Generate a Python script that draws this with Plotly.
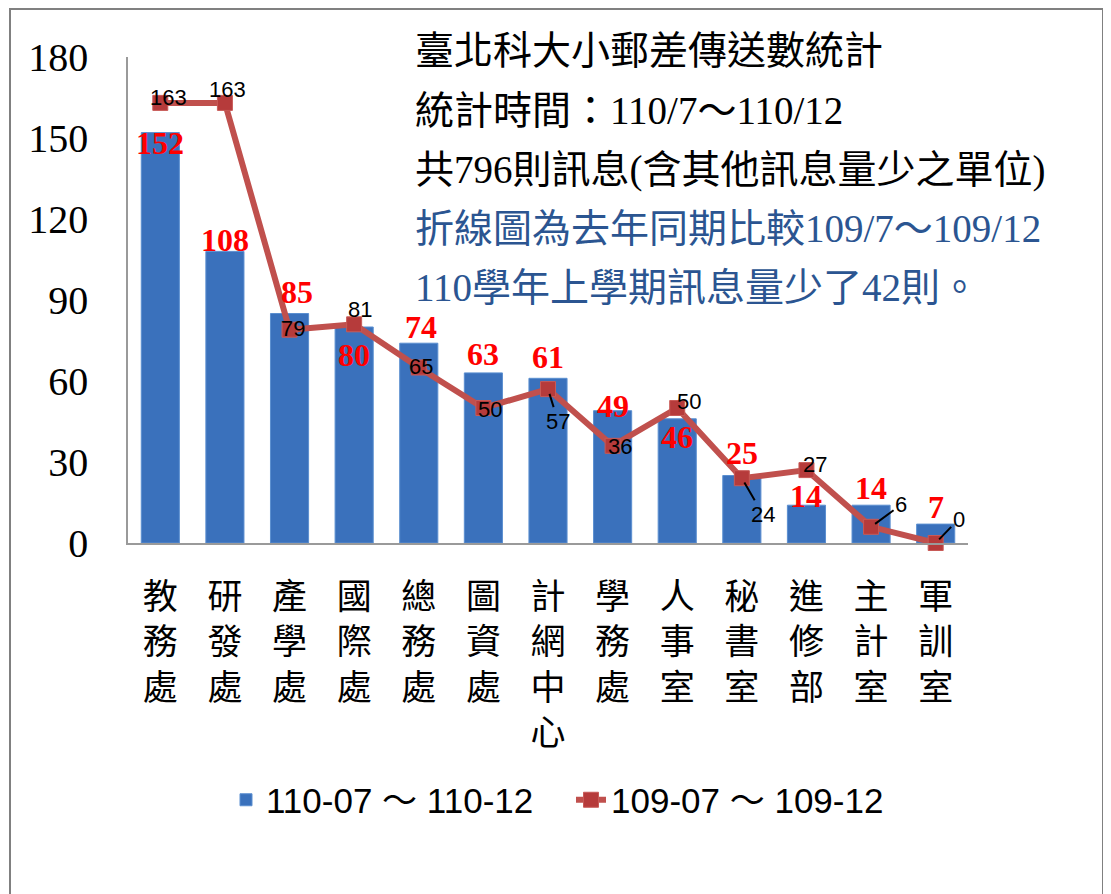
import plotly.graph_objects as go

categories = ['教務處', '研發處', '產學處', '國際處', '總務處', '圖資處', '計網中心',
              '學務處', '人事室', '秘書室', '進修部', '主計室', '軍訓室']
current = [152, 108, 85, 80, 74, 63, 61, 49, 46, 25, 14, 14, 7]
previous = [163, 163, 79, 81, 65, 50, 57, 36, 50, 24, 27, 6, 0]
y_ticks = [0, 30, 60, 90, 120, 150, 180]
name_current = '110-07 ～ 110-12'
name_previous = '109-07 ～ 109-12'
title_lines = ['臺北科大小郵差傳送數統計', '統計時間：110/7～110/12',
               '共796則訊息(含其他訊息量少之單位)',
               '折線圖為去年同期比較109/7～109/12', '110學年上學期訊息量少了42則。']

# label offsets in screen px (dx, dy; dy positive = down)
bar_label_off = [(0, 10), (0, -11), (7, -22), (0, 28), (2, -16), (0, -19), (0, -21),
                 (0, -5), (0, 18), (0, -23), (0, -9), (0, -17), (0, -17)]
line_label_off = [(8, -5), (3, -13), (3, -1), (6, -15), (2, -1), (7, 1), (10, 32),
                  (7, 1), (12, -7), (21, 36), (9, -6), (30, -22), (23, -24)]
line_label_arrow = [False, False, False, False, False, False, True,
                    False, False, True, False, True, True]

OFF = 8  # page body margin
W, H = 1111 - OFF, 894 - OFF
L, R, T, B = 128 - OFF, 968 - OFF, 57 - OFF, 543 - OFF
pw, ph = R - L, B - T

def px2paper(x, y):
    # x, y in reference-page pixels
    return (x - OFF - L) / pw, (B - (y - OFF)) / ph

ticktext = ['<br>'.join(list(c)) for c in categories]

fig = go.Figure()
fig.add_trace(go.Bar(x=categories, y=current, name=name_current,
                     marker=dict(color='#3A71BC', line=dict(color='#5B8FD0', width=1)),
                     width=0.59))
fig.add_trace(go.Scatter(x=categories, y=previous, name=name_previous, mode='lines+markers',
                         cliponaxis=False,
                         line=dict(color='#C0504D', width=6),
                         marker=dict(symbol='square', size=15, color='#B63B3B',
                                     line=dict(color='#C85A57', width=1))))

ann = []
for c, v, (dx, dy) in zip(categories, current, bar_label_off):
    ann.append(dict(x=c, y=v, text=str(v), showarrow=False, xshift=dx, yshift=-dy,
                    xanchor='center', yanchor='middle',
                    font=dict(family='Liberation Serif', size=32, color='#FF0000', weight='bold')))
for c, v, (dx, dy), arr in zip(categories, previous, line_label_off, line_label_arrow):
    if arr:
        ann.append(dict(x=c, y=v, text=str(v), showarrow=True, ax=dx, ay=dy,
                        arrowhead=0, arrowwidth=2, arrowcolor='black', standoff=5,
                        xanchor='center', yanchor='middle',
                        font=dict(family='Liberation Sans', size=22, color='black')))
    else:
        ann.append(dict(x=c, y=v, text=str(v), showarrow=False, xshift=dx, yshift=-dy,
                        xanchor='center', yanchor='middle',
                        font=dict(family='Liberation Sans', size=22, color='black')))

title_y = [50, 110, 170, 228, 287]
title_col = ['black', 'black', 'black', '#2B5591', '#2B5591']
for t, yy, col in zip(title_lines, title_y, title_col):
    xp, yp = px2paper(413, yy)
    ann.append(dict(xref='paper', yref='paper', x=xp, y=yp, text=t, showarrow=False,
                    xanchor='left', yanchor='middle',
                    font=dict(family='Liberation Serif, Noto Sans CJK TC', size=39, color=col)))

x0, y0 = px2paper(10, 905)
x1, y1 = px2paper(1103, 9)
lx, ly = px2paper(226, 800)

fig.update_layout(
    width=W, height=H,
    margin=dict(l=L, r=W - R, t=T, b=H - B, pad=0),
    paper_bgcolor='white', plot_bgcolor='white',
    showlegend=True,
    legend=dict(orientation='h', x=lx, y=ly, xanchor='left', yanchor='middle',
                font=dict(family='Liberation Sans, Noto Sans CJK TC', size=35, color='black'),
                itemwidth=30, tracegroupgap=0, entrywidth=300, entrywidthmode='pixels'),
    annotations=ann,
    shapes=[dict(type='rect', xref='paper', yref='paper', x0=x0, y0=y0, x1=x1, y1=y1,
                 line=dict(color='#808080', width=2), layer='below')],
    xaxis=dict(tickmode='array', tickvals=categories, ticktext=ticktext,
               range=[-0.5, len(categories) - 0.5],
               showline=True, linecolor='#9A9A9A', linewidth=1.5, ticks='',
               ticklabelstandoff=22,
               tickfont=dict(family='Noto Sans CJK TC', size=35, color='black'),
               showgrid=False, zeroline=False, tickangle=0),
    yaxis=dict(range=[0, 180], tickmode='array', tickvals=y_ticks,
               showline=True, linecolor='#9A9A9A', linewidth=1.5, ticks='',
               ticklabelstandoff=30,
               tickfont=dict(family='Liberation Serif', size=40, color='black'),
               showgrid=False, zeroline=False),
)
fig.write_html('out.html')
